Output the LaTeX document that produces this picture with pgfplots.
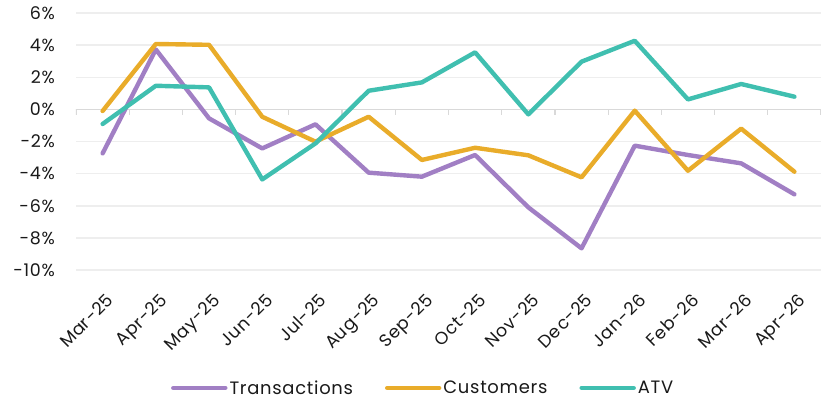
\documentclass[border=0pt]{standalone}
\usepackage{fontspec}
\setmainfont{Poppins}[LetterSpace=4]
\usepackage{pgfplots}
\pgfplotsset{compat=1.18}
\definecolor{trans}{HTML}{A17FC4}
\definecolor{cust}{HTML}{E9AC2A}
\definecolor{atv}{HTML}{40BFB0}
\definecolor{gridc}{HTML}{EEEEEE}
\definecolor{zeroc}{HTML}{D9D9D9}
\begin{document}
\begin{tikzpicture}
\begin{axis}[
  scale only axis, width=745bp, height=257bp,
  xmin=-0.5, xmax=13.5, ymin=-10, ymax=6,
  axis line style={draw=none},
  major tick length=0pt,
  xtick={0,...,13},
  xticklabels={Mar-25,Apr-25,May-25,Jun-25,Jul-25,Aug-25,Sep-25,Oct-25,Nov-25,Dec-25,Jan-26,Feb-26,Mar-26,Apr-26},
  ytick={-10,-8,...,6},
  yticklabels={-10\%,-8\%,-6\%,-4\%,-2\%,0\%,2\%,4\%,6\%},
  ymajorgrids, grid style={draw=gridc, line width=1.5bp},
  xticklabel style={xshift=3bp, rotate=45, anchor=north east, inner sep=0pt, font=\fontsize{17.5}{20}\selectfont, text=black!90},
  xticklabel shift=22bp,
  yticklabel style={anchor=east, inner sep=0pt, font=\fontsize{17.5}{20}\selectfont, text=black!90},
  yticklabel shift=21bp,
  legend style={at={(0.466,-0.459)}, anchor=center, draw=none, fill=none, inner sep=0pt,
    legend columns=3, font=\fontsize{18}{20}\selectfont, text=black!90,
    /tikz/every even column/.append style={column sep=30bp},
    nodes={inner sep=2bp}},
  legend image code/.code={\draw[#1, line width=4.4bp, line cap=round] (0bp,0bp) -- (52bp,0bp);},
  every axis plot/.append style={line width=4.4bp, line join=round, line cap=round, mark=none},
]
\draw[zeroc, line width=1.5bp] (axis cs:-0.5,0) -- (axis cs:13.5,0);
\pgfplotsinvokeforeach{0,...,14}{
  \draw[zeroc, line width=1.2bp] (axis cs:#1-0.5,0) -- ([yshift=-6bp]axis cs:#1-0.5,0);
}
\addplot[trans] coordinates {(0,-2.74) (1,3.73) (2,-0.56) (3,-2.43) (4,-0.93) (5,-3.94) (6,-4.19) (7,-2.84) (8,-6.10) (9,-8.65) (10,-2.26) (11,-2.84) (12,-3.36) (13,-5.29)};
\addlegendentry{Transactions}
\addplot[cust] coordinates {(0,-0.10) (1,4.07) (2,4.02) (3,-0.46) (4,-2.01) (5,-0.46) (6,-3.15) (7,-2.39) (8,-2.86) (9,-4.23) (10,-0.08) (11,-3.82) (12,-1.20) (13,-3.88)};
\addlegendentry{Customers}
\addplot[atv] coordinates {(0,-0.91) (1,1.47) (2,1.37) (3,-4.36) (4,-2.12) (5,1.16) (6,1.68) (7,3.55) (8,-0.31) (9,2.97) (10,4.27) (11,0.62) (12,1.58) (13,0.79)};
\addlegendentry{ATV}
\end{axis}
\pgfresetboundingbox
\path[use as bounding box] (-76bp,-137bp) rectangle (745bp,270bp);
\end{tikzpicture}
\end{document}
